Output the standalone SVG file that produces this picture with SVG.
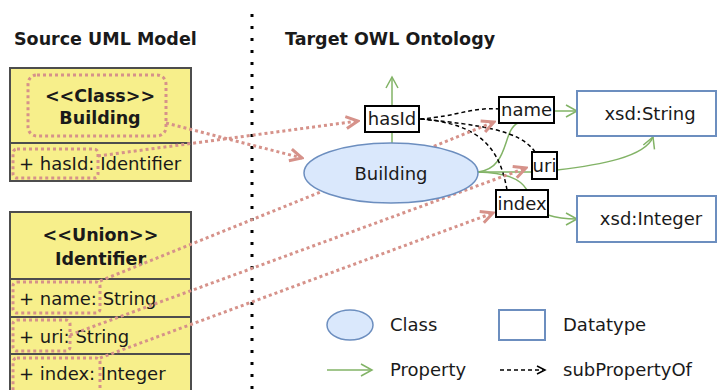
<svg xmlns="http://www.w3.org/2000/svg" width="718" height="390" viewBox="0 0 718 390">
<style>
text{font-family:"DejaVu Sans","Liberation Sans",sans-serif;font-size:18px;fill:#1a1a1a}
.title{font-weight:bold;font-size:17.5px}
.bold{font-weight:bold;font-size:17.5px}
.uml{fill:#f7ef8b;stroke:#4d4d4d;stroke-width:2}
.hl{fill:none;stroke:#d6928a;stroke-width:3;stroke-dasharray:3 3}
.map{fill:none;stroke:#d6928a;stroke-width:3;stroke-dasharray:3 3;marker-end:url(#ra)}
.prop{fill:none;stroke:#82b366;stroke-width:1.5}
.pa{marker-end:url(#ga)}
.sub{fill:none;stroke:#000;stroke-width:1.5;stroke-dasharray:4 3}
.sa{marker-end:url(#ba)}
.pbox{fill:#fff;stroke:#000;stroke-width:2}
.dt{fill:#fff;stroke:#6c8ebf;stroke-width:2}
.cls{fill:#dae8fc;stroke:#6c8ebf;stroke-width:1.5}
.mid{text-anchor:middle}
</style>
<defs>
<marker id="ra" markerUnits="userSpaceOnUse" viewBox="0 0 16 16" refX="14" refY="8" markerWidth="16" markerHeight="16" orient="auto">
<path d="M2,2 L14,8 L2,14" fill="none" stroke="#d6928a" stroke-width="3"/>
</marker>
<marker id="ga" markerUnits="userSpaceOnUse" viewBox="0 0 14 14" refX="12" refY="7" markerWidth="14" markerHeight="14" orient="auto">
<path d="M1,1 L12,7 L1,13" fill="none" stroke="#82b366" stroke-width="1.5"/>
</marker>
<marker id="ba" markerUnits="userSpaceOnUse" viewBox="0 0 12 12" refX="1" refY="6" markerWidth="12" markerHeight="12" orient="auto">
<path d="M10,1 L1,6 L10,11" fill="none" stroke="#000" stroke-width="1.5"/>
</marker>
</defs>
<rect width="718" height="390" fill="#fff"/>

<text class="title" x="14" y="45">Source UML Model</text>
<text class="title" x="285" y="45">Target OWL Ontology</text>
<line x1="252" y1="14" x2="252" y2="392" stroke="#000" stroke-width="3" stroke-dasharray="3 9"/>

<g id="uml-building">
<rect class="uml" x="10" y="68" width="181" height="75"/>
<rect class="uml" x="10" y="143" width="181" height="38"/>
<text class="bold mid" x="100" y="102">&lt;&lt;Class&gt;&gt;</text>
<text class="bold mid" x="100" y="124">Building</text>
<text x="19" y="170">+ hasId: Identifier</text>
<rect class="hl" x="28" y="75" width="138" height="61" rx="9"/>
<rect class="hl" x="13" y="149" width="85" height="29" rx="4"/>
</g>

<g id="uml-identifier">
<rect class="uml" x="10" y="212" width="181" height="67"/>
<rect class="uml" x="10" y="279" width="181" height="38"/>
<rect class="uml" x="10" y="317" width="181" height="37"/>
<rect class="uml" x="10" y="354" width="181" height="40"/>
<text class="bold mid" x="100.5" y="241">&lt;&lt;Union&gt;&gt;</text>
<text class="bold mid" x="100.5" y="265">Identifier</text>
<text x="19" y="305">+ name: String</text>
<text x="19" y="343">+ uri: String</text>
<text x="19" y="380">+ index: Integer</text>
<rect class="hl" x="13" y="282" width="87" height="31" rx="4"/>
<rect class="hl" x="13" y="320" width="57" height="31" rx="4"/>
<rect class="hl" x="13" y="358" width="87" height="36" rx="4"/>
</g>

<g id="connectors">
<path class="prop" d="M392,143 L392,132"/>
<path class="prop pa" d="M392,106 L392,77"/>
<path class="prop" d="M478,172 C510,168 502,130 518,123"/>
<path class="prop" d="M478,172 L532,172"/>
<path class="prop" d="M478,172 C505,173 520,178 527,190"/>
<path class="prop pa" d="M554,111 L577,111"/>
<path class="prop pa" d="M557,170 C600,165 645,157 653,137"/>
<path class="prop pa" d="M548,215 Q560,219 577,219"/>
<path class="sub sa" d="M500,109 C470,107 460,116 420,119"/>
<path class="sub" d="M535,152 C520,130 480,125 421,119"/>
<path class="sub" d="M507,190 C500,150 482,124 421,119"/>
<path class="map" d="M166,123 L302,158"/>
<path class="map" d="M98,156 L358,121"/>
<path class="map" d="M100,281 L494,122"/>
<path class="map" d="M70,335 L526,168"/>
<path class="map" d="M100,358 L493,213"/>
</g>

<g id="owl-building">
<ellipse class="cls" cx="391" cy="173" rx="87" ry="30"/>
<text class="mid" x="391" y="180">Building</text>
</g>
<g id="owl-hasId">
<rect class="pbox" x="365" y="106" width="54" height="26"/>
<text class="mid" x="392" y="125">hasId</text>
</g>
<g id="owl-name">
<rect class="pbox" x="499" y="97" width="55" height="26"/>
<text class="mid" x="526.5" y="116">name</text>
</g>
<g id="owl-uri">
<rect class="pbox" x="532" y="152" width="25" height="27"/>
<text class="mid" x="544.5" y="172">uri</text>
</g>
<g id="owl-index">
<rect class="pbox" x="496" y="190" width="52" height="27"/>
<text class="mid" x="522" y="210">index</text>
</g>
<g id="xsd-string">
<rect class="dt" x="577" y="91" width="139" height="45"/>
<text class="mid" x="650" y="120">xsd:String</text>
</g>
<g id="xsd-integer">
<rect class="dt" x="577" y="196" width="139" height="46"/>
<text class="mid" x="651" y="225">xsd:Integer</text>
</g>

<g id="legend">
<ellipse class="cls" cx="350" cy="325" rx="23" ry="15"/>
<text x="390" y="331">Class</text>
<rect class="dt" x="499" y="310" width="46" height="30" stroke-width="1.5"/>
<text x="563" y="331">Datatype</text>
<path class="prop pa" d="M327,370 L372,370"/>
<text x="390" y="376">Property</text>
<path class="sub" d="M500,370 L543,370" stroke-dasharray="3 3"/>
<path d="M537,366 L545,370 L537,374" fill="none" stroke="#000" stroke-width="1.5"/>
<text x="563" y="376">subPropertyOf</text>
</g>
</svg>
